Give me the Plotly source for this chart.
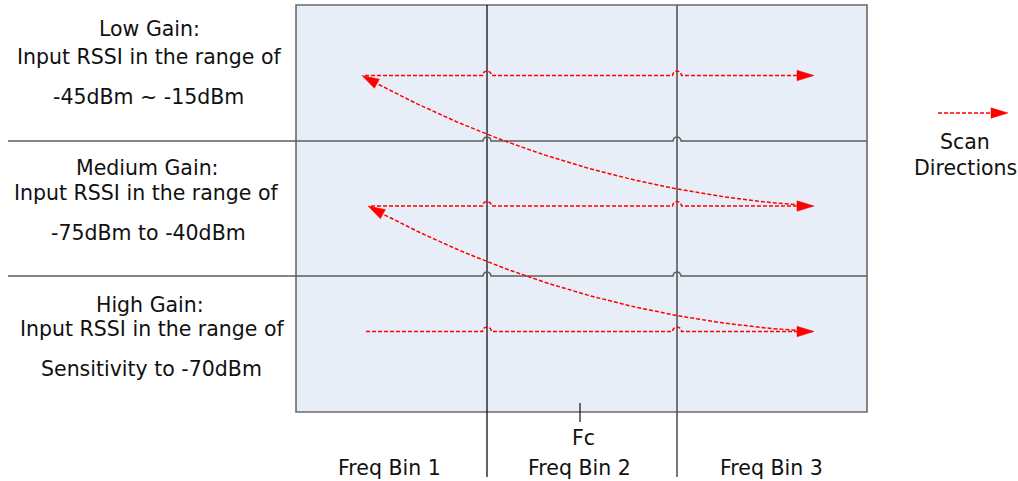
import numpy as np
import plotly.graph_objects as go

# ---- content ----
ROW_TITLES = ["Low Gain:", "Medium Gain:", "High Gain:"]
ROW_SUB = ["Input RSSI in the range of"] * 3
ROW_RANGES = ["-45dBm ~ -15dBm", "-75dBm to -40dBm", "Sensitivity to -70dBm"]
BIN_LABELS = ["Freq Bin 1", "Freq Bin 2", "Freq Bin 3"]
FC_LABEL = "Fc"
LEGEND_LABEL = ["Scan", "Directions"]

# ---- layout geometry (pixel space of the 1018x481 canvas) ----
W, H = 1018, 481
BOX_X = [296, 867]
BOX_Y = [5, 412]
DIVIDERS_X = [487, 677]
DIVIDER_BOTTOM = 477
ROW_EDGES_Y = [141, 276]
ROW_LINE_LEFT = 8
ROW_ARROW_Y = [75.5, 206, 331.5]
ROW_ARROW_START = [365, 371, 366]
ARROW_TIP_X = 814
CURVES = [  # (start = arrow tip, control, end)
    ((362, 75.5), (570, 190), (812, 206)),
    ((368, 206), (573, 318), (812, 331.5)),
]
LABEL_X = [[149.5, 149, 148.5], [147, 145.5, 148], [150, 151.5, 151.5]]
LABEL_Y = [[28.5, 56.5, 97], [168, 192.5, 233], [305, 328.5, 368.5]]
BIN_LABEL_X = [389.5, 579.5, 771]
BIN_LABEL_Y = 467.5
FC_X, FC_TICK, FC_LABEL_Y = 580, (403, 422), 437.5
FC_LABEL_X = 583
LEGEND_ARROW = (938, 1008, 113)
LEGEND_TEXT_X, LEGEND_TEXT_Y = 965, [142, 167.5]

RED = "#FF0000"
FONT = "DejaVu Sans"
FSIZE = 20.5


def hop_path(x0, x1, y, hops, r):
    xs, ys = [x0], [y]
    for hx in sorted(hops):
        if x0 < hx < x1:
            th = np.linspace(np.pi, 0, 13)
            xs += list(hx + r * np.cos(th))
            ys += list(y - r * np.sin(th))
    xs.append(x1)
    ys.append(y)
    return xs, ys


def arrow_head(tip, direction, length=17, half=5.2):
    d = np.array(direction, float)
    d /= np.linalg.norm(d)
    n = np.array([-d[1], d[0]])
    t = np.array(tip, float)
    b = t - d * length
    p1, p2 = b + n * half, b - n * half
    return [t[0], p1[0], p2[0], t[0]], [t[1], p1[1], p2[1], t[1]]


fig = go.Figure()

# box background + border
fig.add_shape(type="rect", x0=BOX_X[0], x1=BOX_X[1], y0=BOX_Y[0], y1=BOX_Y[1],
              fillcolor="#E8EEF7", line=dict(color="#6a6a6a", width=1.6), layer="below")

# vertical dividers
fig.add_trace(go.Scatter(x=[DIVIDERS_X[0]] * 2, y=[BOX_Y[0], DIVIDER_BOTTOM], mode="lines",
                         line=dict(color="#111111", width=1.3), hoverinfo="skip"))
fig.add_trace(go.Scatter(x=[DIVIDERS_X[1]] * 2, y=[BOX_Y[0], DIVIDER_BOTTOM], mode="lines",
                         line=dict(color="#555555", width=1.6), hoverinfo="skip"))

# row boundary lines with hop-overs
for yy in ROW_EDGES_Y:
    xs, ys = hop_path(ROW_LINE_LEFT, BOX_X[1], yy, DIVIDERS_X, 4)
    fig.add_trace(go.Scatter(x=xs, y=ys, mode="lines",
                             line=dict(color="#5e5e5e", width=1.5), hoverinfo="skip"))

# Fc tick
fig.add_trace(go.Scatter(x=[FC_X, FC_X], y=list(FC_TICK), mode="lines",
                         line=dict(color="#111111", width=1.2), hoverinfo="skip"))

dash = "4px,2px"

# horizontal scan arrows
for y0, xs0 in zip(ROW_ARROW_Y, ROW_ARROW_START):
    xs, ys = hop_path(xs0, ARROW_TIP_X - 15, y0, DIVIDERS_X, 4.5)
    fig.add_trace(go.Scatter(x=xs, y=ys, mode="lines",
                             line=dict(color=RED, width=1.5, dash=dash), hoverinfo="skip"))
    hx, hy = arrow_head((ARROW_TIP_X, y0), (1, 0))
    fig.add_trace(go.Scatter(x=hx, y=hy, mode="lines", fill="toself", fillcolor=RED,
                             line=dict(color=RED, width=0.5), hoverinfo="skip"))

# curved return arrows
for S, C, E in CURVES:
    S, C, E = np.array(S, float), np.array(C, float), np.array(E, float)
    t = np.linspace(0.04, 1, 80)[:, None]
    pts = (1 - t) ** 2 * S + 2 * t * (1 - t) * C + t ** 2 * E
    fig.add_trace(go.Scatter(x=pts[:, 0], y=pts[:, 1], mode="lines",
                             line=dict(color=RED, width=1.5, dash=dash), hoverinfo="skip"))
    hx, hy = arrow_head(S, S - C)
    fig.add_trace(go.Scatter(x=hx, y=hy, mode="lines", fill="toself", fillcolor=RED,
                             line=dict(color=RED, width=0.5), hoverinfo="skip"))

# legend arrow
lx0, lx1, ly = LEGEND_ARROW
fig.add_trace(go.Scatter(x=[lx0, lx1 - 15], y=[ly, ly], mode="lines",
                         line=dict(color=RED, width=1.5, dash=dash), hoverinfo="skip"))
hx, hy = arrow_head((lx1, ly), (1, 0))
fig.add_trace(go.Scatter(x=hx, y=hy, mode="lines", fill="toself", fillcolor=RED,
                         line=dict(color=RED, width=0.5), hoverinfo="skip"))

# texts
def txt(x, y, s):
    fig.add_annotation(x=x, y=y, text=s, showarrow=False, xanchor="center", yanchor="middle",
                       font=dict(family=FONT, size=FSIZE, color="#111111"))

for i in range(3):
    for j, s in enumerate([ROW_TITLES[i], ROW_SUB[i], ROW_RANGES[i]]):
        txt(LABEL_X[i][j], LABEL_Y[i][j], s)
for x, s in zip(BIN_LABEL_X, BIN_LABELS):
    txt(x, BIN_LABEL_Y, s)
txt(FC_LABEL_X, FC_LABEL_Y, FC_LABEL)
for y, s in zip(LEGEND_TEXT_Y, LEGEND_LABEL):
    txt(LEGEND_TEXT_X, y, s)

fig.update_layout(
    width=W, height=H, margin=dict(l=0, r=0, t=0, b=0),
    paper_bgcolor="white", plot_bgcolor="white", showlegend=False,
    xaxis=dict(range=[0, W], visible=False, fixedrange=True),
    yaxis=dict(range=[H, 0], visible=False, fixedrange=True),
)
fig.write_html("out.html", config={"displayModeBar": False},
               post_script="document.body.style.margin='0';document.body.style.overflow='hidden';")
